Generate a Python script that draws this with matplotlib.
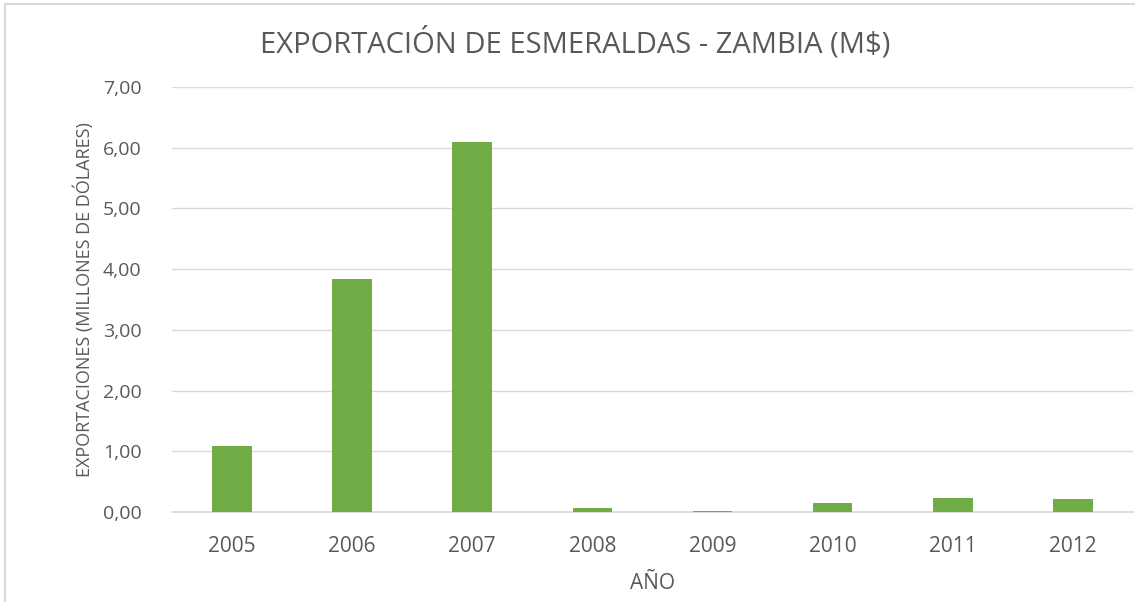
import matplotlib
matplotlib.use('Agg')
import matplotlib.pyplot as plt
from matplotlib.lines import Line2D

years = ['2005', '2006', '2007', '2008', '2009', '2010', '2011', '2012']
exports = [1.08, 3.83, 6.10, 0.06, 0.02, 0.15, 0.225, 0.21]
yticks = [0, 1, 2, 3, 4, 5, 6, 7]
ytick_labels = ['0,00', '1,00', '2,00', '3,00', '4,00', '5,00', '6,00', '7,00']

plt.rcParams['font.family'] = ['Open Sans', 'DejaVu Sans']
text_col = '#595959'

fig = plt.figure(figsize=(11.35, 6.02), dpi=100)
ax = fig.add_axes([0.1515, 0.1495, 0.8467, 0.706])

x = range(len(years))
ax.bar(x, exports, width=0.33, color='#70AD47', zorder=3)
ax.set_xlim(-0.5, len(years) - 0.5)
ax.set_ylim(0, 7)
ax.set_yticks(yticks)
ax.set_yticklabels(ytick_labels)
ax.set_xticks(list(x))
ax.set_xticklabels(years)
ax.grid(axis='y', color='#D9D9D9', linewidth=1, zorder=0)
for s in ['top', 'right', 'left']:
    ax.spines[s].set_visible(False)
ax.spines['bottom'].set_color('#D9D9D9')
ax.spines['bottom'].set_linewidth(1.2)
ax.tick_params(axis='y', length=0, labelsize=14, colors=text_col, pad=22)
ax.tick_params(axis='x', length=0, labelsize=15, colors=text_col, pad=17)

ax.set_xlabel('AÑO', fontsize=15, color=text_col, labelpad=12)
ax.set_ylabel('EXPORTACIONES (MILLONES DE DÓLARES)', fontsize=13, color=text_col, labelpad=6)
fig.text(0.5066, 0.928, 'EXPORTACIÓN DE ESMERALDAS - ZAMBIA (M$)', ha='center', va='center',
         fontsize=21, color=text_col)

# light frame on the left and top edges
fig.add_artist(Line2D([0.004, 0.004], [0, 0.994], transform=fig.transFigure, color='#D9D9D9', lw=1.5))
fig.add_artist(Line2D([0.004, 1], [0.994, 0.994], transform=fig.transFigure, color='#D9D9D9', lw=1.5))

fig.savefig('out.png', dpi=100)
